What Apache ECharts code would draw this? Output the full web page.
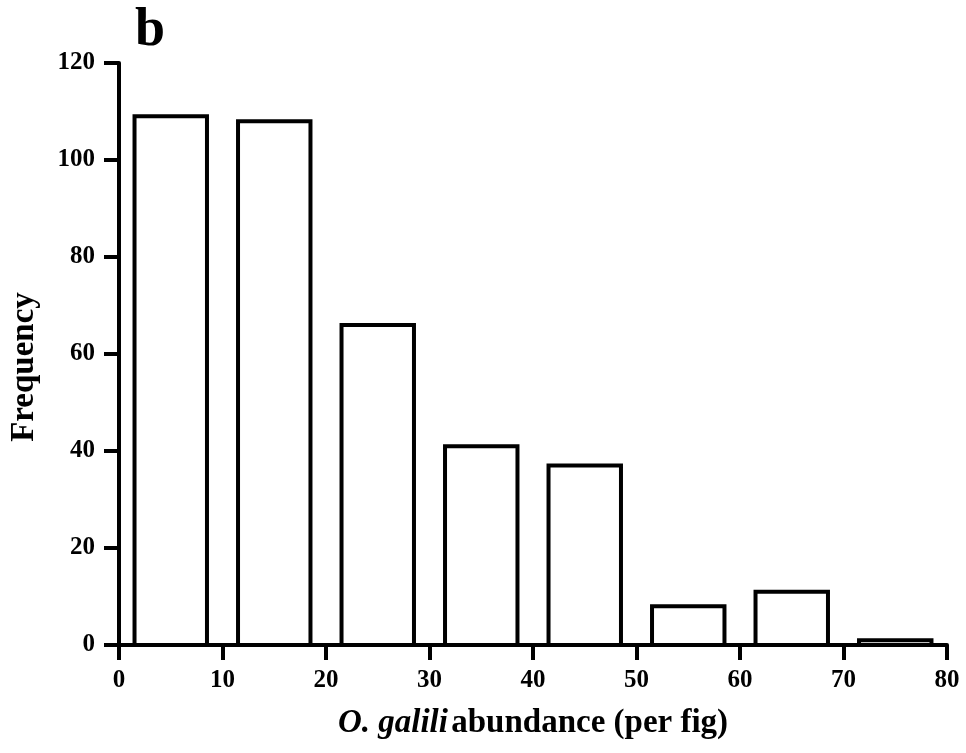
<!DOCTYPE html>
<html>
<head>
<meta charset="utf-8">
<script src="https://cdn.jsdelivr.net/npm/echarts@6/dist/echarts.min.js"></script>
<style>
  html, body { margin: 0; padding: 0; background: #fff; }
  #chart { width: 966px; height: 753px; }
</style>
</head>
<body>
<div id="chart"></div>
<script>
// histogram bins (per fig abundance) and counts
const binStart = [1.5, 11.5, 21.5, 31.5, 41.5, 51.5, 61.5, 71.5];
const binEnd = [8.5, 18.5, 28.5, 38.5, 48.5, 58.5, 68.5, 78.5];
const frequency = [109, 108, 66, 41, 37, 8, 11, 1];

const xTicks = [0, 10, 20, 30, 40, 50, 60, 70, 80];
const yTicks = [0, 20, 40, 60, 80, 100, 120];

const fontFam = "'Liberation Serif', 'Times New Roman', serif";

let data = [];
for (let i = 0; i < frequency.length; i++) {
  data.push([binStart[i], binEnd[i], frequency[i]]);
}

let myChart = echarts.init(document.getElementById("chart"));
let option = {
  backgroundColor: "#fff",
  animation: false,
  title: {
    text: "b",
    left: 130,
    top: -1,
    textStyle: {
      fontFamily: fontFam,
      fontWeight: "bold",
      fontSize: 54,
      color: "#000"
    }
  },
  grid: {
    left: 116,
    right: 19,
    top: 63,
    bottom: 108
  },
  xAxis: {
    type: "value",
    min: xTicks[0],
    max: xTicks[xTicks.length - 1],
    interval: 10,
    name: "{i|O. galili} {b|abundance (per fig)}",
    nameLocation: "middle",
    nameGap: 62,
    nameTextStyle: {
      rich: {
        i: { fontFamily: fontFam, fontWeight: "bold", fontStyle: "italic", fontSize: 33, color: "#000" },
        b: { fontFamily: fontFam, fontWeight: "bold", fontSize: 33, color: "#000" }
      }
    },
    axisLine: { lineStyle: { color: "#000", width: 4 } },
    axisTick: { show: true, length: 15, lineStyle: { color: "#000", width: 4 } },
    axisLabel: {
      margin: 23,
      fontFamily: fontFam,
      fontWeight: "bold",
      fontSize: 25,
      color: "#000"
    },
    splitLine: { show: false }
  },
  yAxis: {
    type: "value",
    min: yTicks[0],
    max: yTicks[yTicks.length - 1],
    interval: 20,
    name: "Frequency",
    nameLocation: "middle",
    nameGap: 78,
    nameTextStyle: {
      fontFamily: fontFam,
      fontWeight: "bold",
      fontSize: 33,
      color: "#000",
      padding: [0, 26, 0, 0]
    },
    axisLine: { show: true, lineStyle: { color: "#000", width: 4 } },
    axisTick: { show: true, length: 15, lineStyle: { color: "#000", width: 4 } },
    axisLabel: {
      margin: 24,
      fontFamily: fontFam,
      fontWeight: "bold",
      fontSize: 25,
      color: "#000"
    },
    splitLine: { show: false }
  },
  series: [
    {
      type: "custom",
      data: data,
      encode: { x: [0, 1], y: 2 },
      renderItem: function (params, api) {
        let p0 = api.coord([api.value(0), 0]);
        let p1 = api.coord([api.value(1), api.value(2)]);
        return {
          type: "rect",
          shape: {
            x: p0[0],
            y: p1[1],
            width: p1[0] - p0[0],
            height: p0[1] - p1[1]
          },
          style: { fill: "#fff", stroke: "#000", lineWidth: 4 }
        };
      }
    }
  ]
};
myChart.setOption(option);
window.addEventListener("resize", () => {
  myChart.resize();
});
</script>
</body>
</html>
